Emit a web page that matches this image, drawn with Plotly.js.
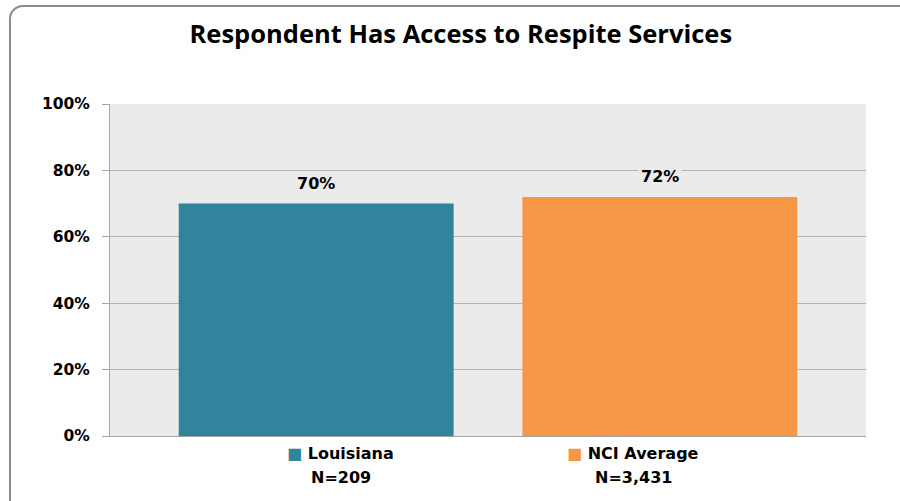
<!DOCTYPE html>
<html>
<head>
<meta charset="utf-8">
<script src="https://cdn.plot.ly/plotly-3.0.1.min.js"></script>
<style>
  html, body { margin:0; padding:0; width:900px; height:501px; overflow:hidden; background:#fff; }
  #frame { position:absolute; left:9px; top:5px; width:1000px; height:600px; border:2px solid #8c8c8c; border-radius:14px; box-sizing:border-box; }
  #chart { position:absolute; left:0; top:0; width:900px; height:501px; }
</style>
</head>
<body>
<div id="frame"></div>
<div id="chart"></div>
<script>
const categories = ["Louisiana", "NCI Average"];
const values = [70, 72];
const sampleSizes = ["N=209", "N=3,431"];
const barColors = ["#31849B", "#F79646"];
const yTickVals = [0, 20, 40, 60, 80, 100];
const yTickText = ["0%", "20%", "40%", "60%", "80%", "100%"];

const TITLE_FONT = "'Open Sans', sans-serif";
const FONT = "'DejaVu Sans', sans-serif";

const trace = {
  type: "bar",
  x: categories,
  y: values,
  width: 0.8,
  marker: { color: barColors },
  hoverinfo: "skip"
};

const valueLabels = categories.map((c, i) => ({
  x: c, y: values[i], xref: "x", yref: "y",
  text: "<b>" + values[i] + "%</b>",
  showarrow: false, yanchor: "bottom", yshift: 8,
  bgcolor: "#EBEBEB", borderpad: 2,
  font: { family: FONT, size: 16, color: "#000" }
}));

const catShift = [24, -27];
const catNameLabels = categories.map((c, i) => ({
  x: c, y: 0, xref: "x", yref: "y",
  text: "<b><span style='color:" + barColors[i] + "'>■</span> " + c + "</b>",
  showarrow: false, yanchor: "middle", yshift: -17, xshift: catShift[i],
  font: { family: FONT, size: 16, color: "#000" }
}));
const catNLabels = categories.map((c, i) => ({
  x: c, y: 0, xref: "x", yref: "y",
  text: "<b>" + sampleSizes[i] + "</b>",
  showarrow: false, yanchor: "middle", yshift: -41, xshift: catShift[i] + 1,
  font: { family: FONT, size: 16, color: "#000" }
}));

const layout = {
  width: 900, height: 501,
  paper_bgcolor: "rgba(0,0,0,0)",
  plot_bgcolor: "#EBEBEB",
  margin: { l: 110, r: 34, t: 104, b: 65 },
  showlegend: false,
  title: {
    text: "<b>Respondent Has Access to Respite Services</b>",
    x: 0.512, xref: "container", xanchor: "center",
    y: 0.932, yref: "container", yanchor: "middle",
    font: { family: TITLE_FONT, size: 25.5, color: "#000" }
  },
  xaxis: {
    type: "category",
    range: [-0.6, 1.6],
    showticklabels: false,
    showgrid: false,
    showline: true, linecolor: "#A6A6A6", linewidth: 1,
    zeroline: false, fixedrange: true
  },
  yaxis: {
    range: [0, 100],
    tickvals: yTickVals, ticktext: yTickText,
    ticks: "outside", ticklen: 7, tickcolor: "#A6A6A6",
    ticklabelstandoff: 9,
    showgrid: true, gridcolor: "#B4B4B4", gridwidth: 1,
    showline: true, linecolor: "#A6A6A6", linewidth: 1,
    zeroline: false,
    tickfont: { family: FONT, size: 15.5, color: "#000", weight: "bold" },
    fixedrange: true
  },
  annotations: valueLabels.concat(catNameLabels, catNLabels)
};

Plotly.newPlot("chart", [trace], layout, { displayModeBar: false, staticPlot: true });
</script>
</body>
</html>
